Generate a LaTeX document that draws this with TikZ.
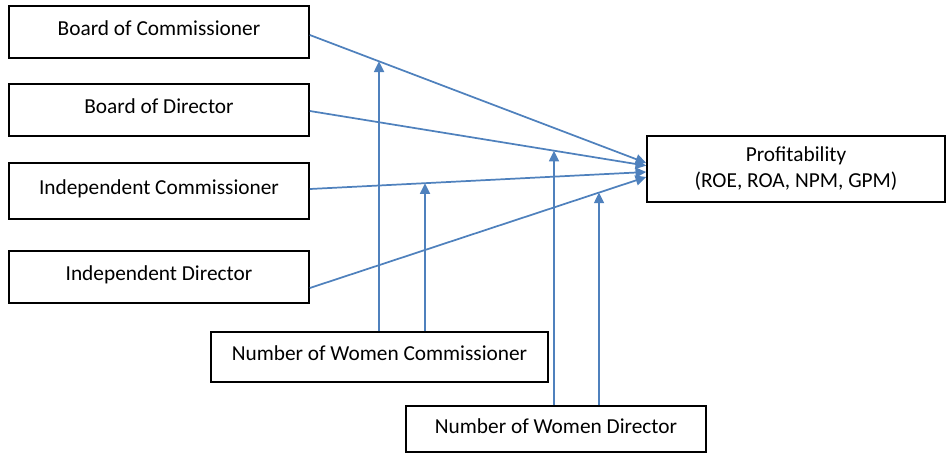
\documentclass[tikz,border=0pt]{standalone}
\usepackage{fontspec}
\setmainfont{Carlito}
\usepackage{xcolor}
\usepackage{tikz}
\usetikzlibrary{arrows.meta,intersections}

\definecolor{linkblue}{RGB}{79,129,189}

\begin{document}
\begin{tikzpicture}[
  x=0.75pt, y=-0.75pt,
  >={Triangle[length=8pt,width=7.5pt]},
  box/.style={rectangle,draw,line width=1.2pt,align=center,inner sep=0pt,font=\fontsize{16}{19.5}\selectfont},
  factor/.style={box,text height=10.5pt,text depth=6pt},
  link/.style={->,color=linkblue,line width=1.3pt}
]
\useasboundingbox (0,0) rectangle (948,454);

\node[factor,minimum width=225pt,minimum height=39pt] (boc) at (159,32) {Board of Commissioner};
\node[factor,minimum width=225pt,minimum height=39pt] (bod) at (159,110) {Board of Director};
\node[factor,minimum width=225pt,minimum height=42pt] (ic) at (159,191) {Independent Commissioner};
\node[factor,minimum width=225pt,minimum height=39pt] (id) at (159,277) {Independent Director};
\node[box,minimum width=223.5pt,minimum height=49.5pt] (prof) at (796,169) {Profitability\\(ROE, ROA, NPM, GPM)};
\node[factor,minimum width=252.75pt,minimum height=37.5pt] (nwc) at (379.5,357) {Number of Women Commissioner};
\node[factor,text depth=3.5pt,minimum width=225pt,minimum height=34.5pt] (nwd) at (556,429) {Number of Women Director};

% arrows
\draw[link,name path=boc2prof] ([yshift=-2.25pt]boc.east) -- ([yshift=4.5pt]prof.west);
\draw[link,name path=bod2prof] ([yshift=-0.75pt]bod.east) -- ([yshift=2.5pt]prof.west);
\draw[link,name path=ic2prof] ([yshift=1.5pt]ic.east) -- ([yshift=-2.25pt]prof.west);
\draw[link,name path=id2prof] ([yshift=-8.25pt]id.east) -- ([yshift=-6pt]prof.west);

% moderating arrows
\path[name path=v1] (379,0) -- (379,454);
\path[name path=v2] (425,0) -- (425,454);
\path[name path=v3] (554,0) -- (554,454);
\path[name path=v4] (599,0) -- (599,454);
\draw[link,name intersections={of=boc2prof and v1,by=m1}] (nwc.north -| m1) -- (m1);
\draw[link,name intersections={of=ic2prof and v2,by=m2}] (nwc.north -| m2) -- (m2);
\draw[link,name intersections={of=bod2prof and v3,by=m3}] (nwd.north -| m3) -- (m3);
\draw[link,name intersections={of=id2prof and v4,by=m4}] (nwd.north -| m4) -- (m4);
\end{tikzpicture}
\end{document}
